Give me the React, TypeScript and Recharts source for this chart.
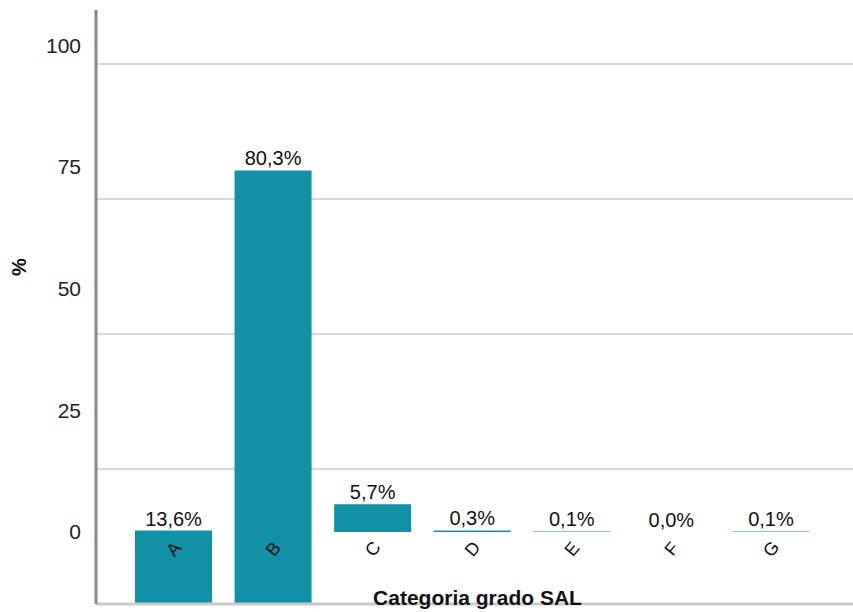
import React from 'react';
import {
  BarChart,
  Bar,
  XAxis,
  YAxis,
  CartesianGrid,
  LabelList,
} from 'recharts';

// SAL grade categories and share of cases (%)
const categories = ['A', 'B', 'C', 'D', 'E', 'F', 'G'];
const shares = [13.6, 80.3, 5.7, 0.3, 0.1, 0.0, 0.1];
const yTicks = [0, 25, 50, 75, 100];

// first two categories sit on the grid scale, the rest on the label scale
const MAIN_COUNT = 2;

const rows = categories.map((cat, i) => ({
  cat,
  main: i < MAIN_COUNT ? shares[i] : null,
  shifted: i >= MAIN_COUNT ? shares[i] : null,
}));

const BAR_COLOR = '#1191a6';
const FONT = '"Liberation Sans", Arial, sans-serif';

const fmtPct = (v: unknown) =>
  v == null ? '' : `${Number(v).toFixed(1).replace('.', ',')}%`;

// keep zero-height bars so their label still shows
const keepZero = (v: unknown) => (v === 0 ? 0.01 : 0);

const CategoryTick = ({ x, y, payload }: { x?: number; y?: number; payload?: { value: string } }) => {
  const tx = x ?? 0;
  const ty = (y ?? 0) - 55;
  return (
    <text
      x={tx}
      y={ty}
      transform={`rotate(-50, ${tx}, ${ty})`}
      textAnchor="middle"
      dominantBaseline="central"
      fontSize={18}
      fill="#111"
      fontFamily={FONT}
    >
      {payload?.value}
    </text>
  );
};

export default function App() {
  return (
    <div style={{ width: 853, height: 612 }}>
      <style>{'body{margin:0}'}</style>
      <BarChart
        width={853}
        height={612}
        data={rows}
        margin={{ top: 10, right: 0, left: 0, bottom: 0 }}
        style={{ fontFamily: FONT }}
      >
        <CartesianGrid
          xAxisId="main"
          yAxisId="main"
          vertical={false}
          horizontalValues={yTicks}
          stroke="#d9d9d9"
          strokeWidth={2}
        />
        <XAxis
          xAxisId="main"
          dataKey="cat"
          padding={{ left: 28, right: 32 }}
          height={8}
          tickSize={0}
          tickMargin={0}
          tickLine={false}
          axisLine={{ stroke: '#c9c9c9', strokeWidth: 3 }}
          tick={<CategoryTick />}
          label={{
            value: 'Categoria grado SAL',
            position: 'insideBottom',
            offset: 7,
            dx: 3,
            fontSize: 21,
            fontWeight: 'bold',
            fill: '#111',
          }}
        />
        <XAxis xAxisId="shift" dataKey="cat" padding={{ left: 28, right: 32 }} hide />
        <YAxis
          yAxisId="pct"
          domain={[-14.8, 107.2]}
          ticks={yTicks}
          allowDataOverflow
          width={96}
          tickLine={false}
          tickSize={0}
          tickMargin={15}
          axisLine={{ stroke: '#888', strokeWidth: 3 }}
          tick={{ fill: '#222', fontSize: 21 }}
          label={{
            value: '%',
            angle: -90,
            position: 'center',
            dx: -29,
            dy: -40,
            fontSize: 20,
            fontWeight: 'bold',
            fill: '#111',
          }}
        />
        <YAxis yAxisId="main" domain={[0, 110]} ticks={yTicks} width={0} hide />
        <Bar
          dataKey="main"
          xAxisId="main"
          yAxisId="main"
          fill={BAR_COLOR}
          barSize={77}
          isAnimationActive={false}
        >
          <LabelList dataKey="main" position="top" formatter={fmtPct} fontSize={20} fill="#111" />
        </Bar>
        <Bar
          dataKey="shifted"
          xAxisId="shift"
          yAxisId="pct"
          fill={BAR_COLOR}
          barSize={77}
          minPointSize={keepZero}
          isAnimationActive={false}
        >
          <LabelList dataKey="shifted" position="top" formatter={fmtPct} fontSize={20} fill="#111" />
        </Bar>
      </BarChart>
    </div>
  );
}
